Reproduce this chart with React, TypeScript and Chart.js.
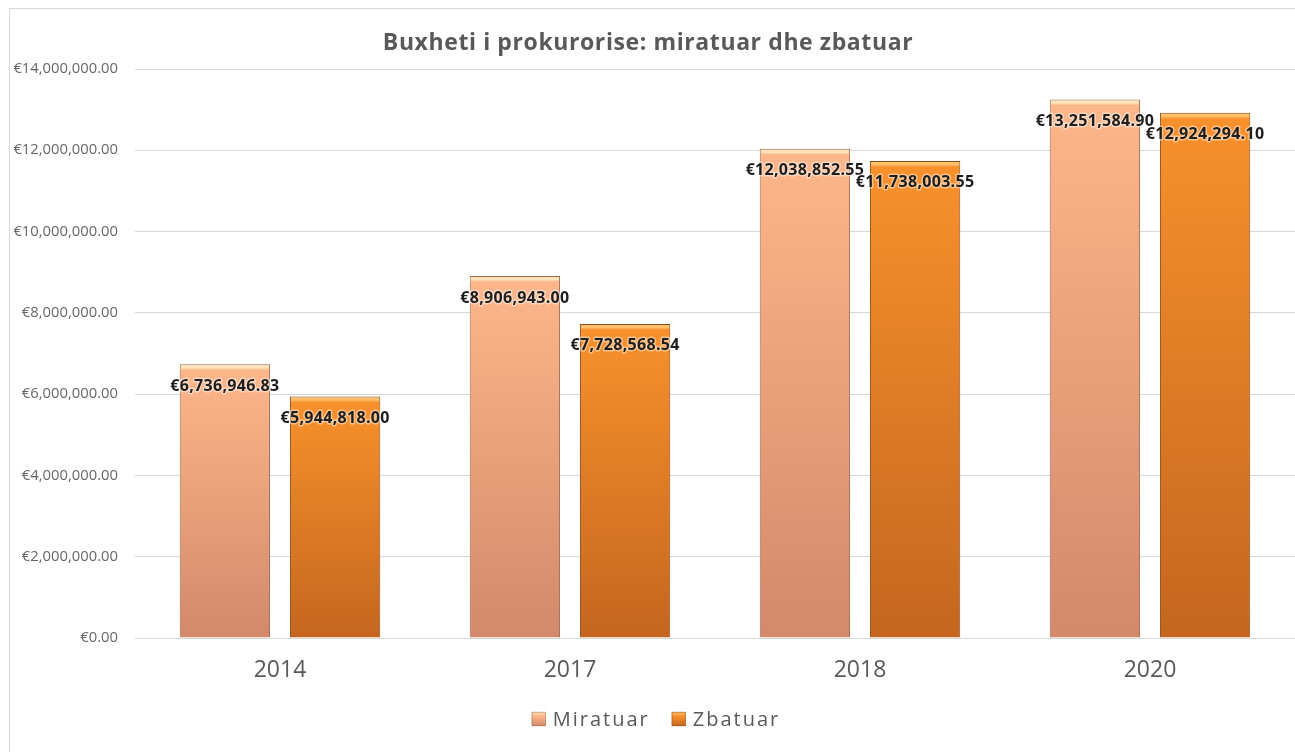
import React, { useEffect, useRef } from "react";
import { Chart, registerables } from "chart.js";

Chart.register(...registerables);

const categories = ["2014", "2017", "2018", "2020"];
const miratuar = [6736946.83, 8906943.0, 12038852.55, 13251584.9];
const zbatuar = [5944818.0, 7728568.54, 11738003.55, 12924294.1];
const seriesNames = ["Miratuar", "Zbatuar"];
const yTicks = [0, 2000000, 4000000, 6000000, 8000000, 10000000, 12000000, 14000000];
const titleText = "Buxheti i prokurorise: miratuar dhe zbatuar";

const FONT = "'Open Sans'";
const GRAY = "#595959";

const palettes = [
  { hi: "#ffe3b8", top: "#fdb68a", bottom: "#d3896a", border: "#9a6a50" },
  { hi: "#ffc06a", top: "#f8902c", bottom: "#c4661e", border: "#8a4a18" },
];

const fmt = (v: number) =>
  "€" + v.toLocaleString("en-US", { minimumFractionDigits: 2, maximumFractionDigits: 2 });

function barGradient(ctx: any, pi: number) {
  const chart = ctx.chart;
  const p = palettes[pi];
  const area = chart.chartArea;
  if (!area || !chart.scales || !chart.scales.y) return p.top;
  const v = ctx.raw as number;
  const yTop = chart.scales.y.getPixelForValue(v);
  const yBot = chart.scales.y.getPixelForValue(0);
  const h = Math.max(1, yBot - yTop);
  const g = chart.ctx.createLinearGradient(0, yTop, 0, yBot);
  const s = Math.min(0.2, 6 / h);
  g.addColorStop(0, p.hi);
  g.addColorStop(s * 0.6, p.hi);
  g.addColorStop(s, p.top);
  g.addColorStop(1, p.bottom);
  return g;
}

const decorPlugin = {
  id: "decor",
  afterDraw(chart: any) {
    const c = chart.ctx;
    c.save();
    // title
    c.fillStyle = GRAY;
    c.font = `bold 23px ${FONT}`;
    (c as any).letterSpacing = "0.6px";
    c.textAlign = "center";
    c.textBaseline = "middle";
    c.fillText(titleText, 648, 43);

    // data labels
    c.font = `bold 16px ${FONT}`;
    (c as any).letterSpacing = "0.3px";
    chart.data.datasets.forEach((ds: any, di: number) => {
      const meta = chart.getDatasetMeta(di);
      meta.data.forEach((el: any, i: number) => {
        const txt = fmt(ds.data[i]);
        const x = el.x;
        const y = el.y + 22;
        c.lineJoin = "round";
        c.strokeStyle = "rgba(255,255,255,0.45)";
        c.lineWidth = 3;
        c.strokeText(txt, x, y);
        c.fillStyle = "#1e1e1e";
        c.fillText(txt, x, y);
      });
    });

    // legend
    c.font = `20px ${FONT}`;
    (c as any).letterSpacing = "2px";
    c.textAlign = "left";
    const box = 14;
    const gapBoxText = 7;
    const gapItems = 22;
    const widths = seriesNames.map((n) => box + gapBoxText + c.measureText(n).width);
    const total = widths.reduce((a, b) => a + b, 0) + gapItems;
    let x = 656 - total / 2;
    const cy = 719;
    seriesNames.forEach((n, i) => {
      const p = palettes[i];
      const g = c.createLinearGradient(0, cy - box / 2, 0, cy + box / 2);
      g.addColorStop(0, p.hi);
      g.addColorStop(0.3, p.top);
      g.addColorStop(1, p.bottom);
      c.fillStyle = g;
      c.fillRect(x, cy - box / 2, box, box);
      c.strokeStyle = p.border;
      c.lineWidth = 0.5;
      c.strokeRect(x + 0.25, cy - box / 2 + 0.25, box - 0.5, box - 0.5);
      c.fillStyle = GRAY;
      c.fillText(n, x + box + gapBoxText, cy + 1);
      x += widths[i] + gapItems;
    });
    (c as any).letterSpacing = "0px";
    c.restore();
  },
};

export default function App() {
  const ref = useRef<HTMLCanvasElement>(null);
  useEffect(() => {
    if (!ref.current) return;
    const chart = new Chart(ref.current, {
      type: "bar",
      data: {
        labels: categories,
        datasets: [
          {
            label: seriesNames[0],
            data: miratuar,
            backgroundColor: (ctx: any) => barGradient(ctx, 0),
            borderColor: palettes[0].border,
            borderWidth: 1,
            categoryPercentage: 0.76,
            barPercentage: 0.82,
          },
          {
            label: seriesNames[1],
            data: zbatuar,
            backgroundColor: (ctx: any) => barGradient(ctx, 1),
            borderColor: palettes[1].border,
            borderWidth: 1,
            categoryPercentage: 0.76,
            barPercentage: 0.82,
          },
        ],
      },
      options: {
        responsive: false,
        animation: false,
        maintainAspectRatio: false,
        layout: { padding: { top: 69, left: 0, right: 0, bottom: 0 } },
        plugins: {
          legend: { display: false },
          title: { display: false },
          tooltip: { enabled: false },
        },
        scales: {
          x: {
            grid: { display: false, drawTicks: false },
            border: { display: false },
            ticks: {
              color: GRAY,
              font: { family: FONT, size: 23 },
              padding: 19,
            },
            afterFit: (s: any) => {
              s.height = 752 - 638;
            },
          },
          y: {
            min: 0,
            max: 14000000,
            afterBuildTicks: (s: any) => {
              s.ticks = yTicks.map((v) => ({ value: v }));
            },
            grid: { color: "#d9d9d9", drawTicks: false, lineWidth: 1 },
            border: { display: false },
            ticks: {
              color: "#666666",
              font: { family: FONT, size: 14.8 },
              padding: 17,
              callback: (v: any) => fmt(Number(v)),
            },
            afterFit: (s: any) => {
              s.width = 135;
            },
          },
        },
      },
      plugins: [decorPlugin],
    });
    return () => chart.destroy();
  }, []);
  return (
    <div style={{ position: "fixed", left: 0, top: 0, width: 1295, height: 752, background: "#fff", overflow: "hidden" }}>
      <div
        style={{
          position: "absolute",
          left: 9,
          top: 8,
          width: 1400,
          height: 800,
          border: "1px solid #d9d9d9",
          boxSizing: "border-box",
        }}
      />
      <canvas ref={ref} width={1295} height={752} style={{ position: "absolute", left: 0, top: 0 }} />
    </div>
  );
}
